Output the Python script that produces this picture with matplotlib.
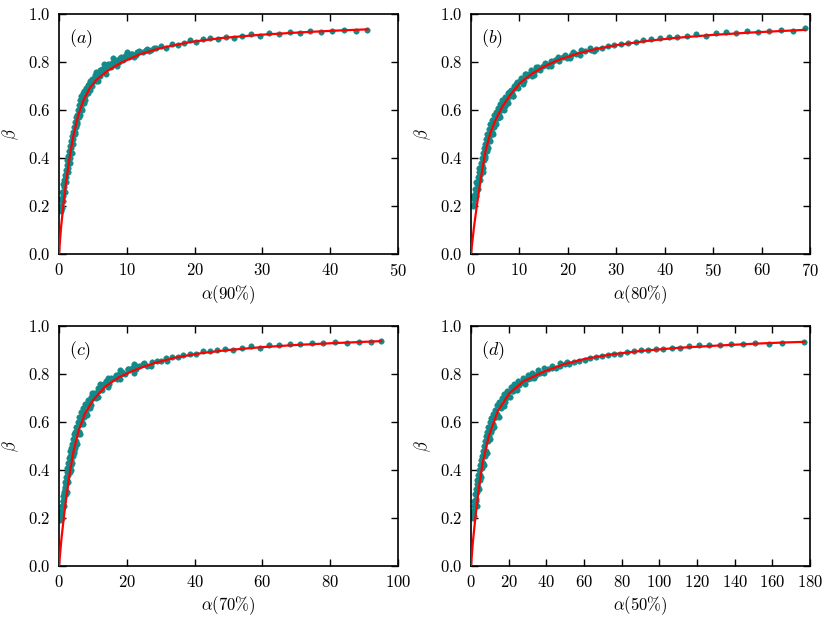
import matplotlib
matplotlib.use("Agg")
import matplotlib.pyplot as plt

plt.rcParams['font.family'] = ['cmr10']
plt.rcParams['mathtext.fontset'] = 'cm'
plt.rcParams['axes.formatter.use_mathtext'] = True
plt.rcParams['font.size'] = 12

# measured points (alpha, beta) per panel
pts_a = [(0.25,0.18),(0.3,0.2),(0.4,0.19),(0.45,0.22),(0.55,0.24),(0.6,0.22),(0.7,0.26),(0.8,0.28),
         (0.85,0.26),(0.95,0.3),(1.05,0.32),(1.1,0.3),(1.2,0.34),(1.3,0.36),(1.35,0.34),(1.45,0.38),
         (1.55,0.4),(1.6,0.38),(1.7,0.42),(1.8,0.44),(1.85,0.42),(1.95,0.46),(2.05,0.48),(2.1,0.46),
         (2.2,0.5),(2.3,0.51),(2.4,0.5),(2.5,0.53),(2.6,0.55),(2.7,0.54),(2.8,0.57),(2.9,0.58),
         (3.0,0.57),(3.1,0.6),(3.2,0.61),(3.35,0.6),(3.5,0.63),(3.6,0.64),(3.75,0.63),(3.9,0.66),
         (4.0,0.67),(4.2,0.68),(4.35,0.67),(4.5,0.7),(4.7,0.71),(4.85,0.7),(5.0,0.72),(5.2,0.73),
         (5.4,0.72),(5.6,0.74),(5.8,0.75),(6.0,0.74),(6.2,0.76),(6.5,0.77),(6.8,0.76),(7.0,0.78),
         (7.3,0.79),(7.6,0.78),(7.9,0.8),(8.2,0.79),(8.5,0.81),(8.8,0.8),(9.1,0.82),(9.5,0.81),
         (9.9,0.83),(10.3,0.82),(10.8,0.835),(11.3,0.83),(11.8,0.845),(12.4,0.84),(13.0,0.855),
         (13.6,0.85),(14.3,0.86),(15.0,0.865),(15.8,0.86),(16.6,0.875),(17.5,0.87),(18.4,0.88),
         (19.3,0.89),(20.2,0.885),(21.2,0.895),(22.3,0.9),(23.4,0.895),(24.6,0.905),(25.8,0.9),
         (27.0,0.91),(28.3,0.915),(29.6,0.91),(31.0,0.92),(32.5,0.915),(34.0,0.925),(35.5,0.92),
         (37.0,0.93),(38.6,0.925),(40.2,0.93),(42.0,0.935),(43.8,0.93),(45.5,0.935),
         (2.6,0.58),(3.4,0.65),(4.4,0.71),(5.5,0.76),(6.6,0.79),(8.0,0.815),(10.0,0.84),
         (0.35,0.23),(0.5,0.26),(0.65,0.29),(0.75,0.31),(0.9,0.33),(1.0,0.35),(1.15,0.37),
         (1.25,0.39),(1.4,0.41),(1.5,0.43),(1.65,0.45),(1.75,0.47),(1.9,0.49),(2.0,0.51),
         (2.15,0.53),(2.35,0.55),(2.45,0.57),(2.75,0.6),(2.95,0.62),(3.15,0.64),(3.3,0.66),
         (3.55,0.67),(3.7,0.68),(3.95,0.69),(4.3,0.705),(4.6,0.72),(4.9,0.73),(5.3,0.745),
         (5.7,0.755),(6.1,0.765),(6.4,0.77),(7.1,0.785),(7.5,0.79),(8.4,0.805),(9.0,0.815),
         (9.7,0.825),(10.6,0.835),(11.5,0.84),(12.8,0.85),(14.0,0.86),
         (3.05,0.58),(3.8,0.64),(4.6,0.685),(5.7,0.72),(6.9,0.75),(8.6,0.785),(11.0,0.82),
         (13.3,0.845)]

pts_b = [(0.4,0.2),(0.55,0.23),(0.7,0.21),(0.85,0.25),(1.0,0.24),(1.15,0.27),(1.3,0.29),(1.45,0.27),
         (1.6,0.31),(1.8,0.33),(1.95,0.31),(2.1,0.35),(2.3,0.37),(2.45,0.36),(2.6,0.39),(2.8,0.41),
         (2.95,0.4),(3.1,0.43),(3.3,0.45),(3.45,0.44),(3.6,0.47),(3.8,0.48),(4.0,0.47),(4.2,0.5),
         (4.4,0.51),(4.6,0.5),(4.8,0.53),(5.0,0.55),(5.2,0.54),(5.4,0.57),(5.7,0.58),(5.9,0.57),
         (6.2,0.6),(6.5,0.61),(6.8,0.6),(7.1,0.63),(7.4,0.64),(7.7,0.63),(8.0,0.66),(8.4,0.67),
         (8.7,0.66),(9.0,0.69),(9.4,0.7),(9.8,0.69),(10.2,0.72),(10.6,0.73),(11.0,0.72),(11.5,0.74),
         (12.0,0.75),(12.5,0.74),(13.0,0.76),(13.6,0.77),(14.2,0.765),(14.8,0.785),(15.4,0.79),
         (16.0,0.785),(16.7,0.8),(17.4,0.81),(18.2,0.805),(19.0,0.82),(19.8,0.815),(20.7,0.83),
         (21.6,0.835),(22.6,0.83),(23.6,0.845),(24.7,0.85),(25.8,0.855),(27.0,0.86),(28.3,0.865),
         (29.6,0.87),(31.0,0.875),(32.5,0.88),(34.0,0.885),(35.6,0.89),(37.2,0.895),(39.0,0.9),
         (40.8,0.905),(42.6,0.905),(44.5,0.91),(46.5,0.915),(48.5,0.91),(50.5,0.92),(52.6,0.925),
         (54.8,0.92),(57.0,0.93),(59.3,0.925),(61.6,0.93),(64.0,0.935),(66.4,0.93),(69.0,0.94),
         (2.6,0.42),(3.5,0.49),(4.5,0.54),(5.5,0.59),(6.6,0.635),(7.8,0.675),(9.2,0.71),
         (11.2,0.75),(13.4,0.78),
         (0.5,0.24),(0.8,0.27),(1.1,0.3),(1.35,0.32),(1.55,0.34),(1.75,0.36),(2.0,0.38),(2.2,0.4),
         (2.4,0.42),(2.7,0.44),(2.9,0.46),(3.2,0.48),(3.4,0.5),(3.7,0.52),(3.95,0.54),(4.3,0.56),
         (4.7,0.58),(5.1,0.59),(5.6,0.61),(6.0,0.625),(6.5,0.64),(7.0,0.655),(7.6,0.67),(8.2,0.685),
         (8.9,0.7),(9.6,0.715),(10.4,0.735),(11.4,0.75),(12.4,0.765),(13.8,0.78),(15.2,0.795),
         (16.5,0.805),(18.0,0.82),(19.5,0.83),(21.0,0.84),(22.8,0.85),(24.5,0.857),
         (2.4,0.34),(3.3,0.43),(4.3,0.5),(5.6,0.565),(7.0,0.615),(8.6,0.66),(10.8,0.71),
         (13.0,0.745),(16.5,0.785),(20.5,0.815),(25.5,0.845)]

pts_c = [(0.4,0.19),(0.6,0.22),(0.8,0.2),(1.0,0.25),(1.2,0.27),(1.4,0.25),(1.6,0.3),(1.8,0.32),
         (2.0,0.3),(2.2,0.34),(2.4,0.36),(2.6,0.35),(2.8,0.38),(3.0,0.4),(3.2,0.39),(3.4,0.42),
         (3.6,0.44),(3.8,0.43),(4.0,0.46),(4.3,0.48),(4.5,0.47),(4.8,0.5),(5.0,0.52),(5.3,0.51),
         (5.6,0.55),(5.9,0.56),(6.2,0.55),(6.5,0.59),(6.8,0.6),(7.1,0.59),(7.5,0.63),(7.9,0.64),
         (8.3,0.63),(8.7,0.67),(9.1,0.68),(9.5,0.67),(10.0,0.7),(10.5,0.71),(11.0,0.7),(11.6,0.73),
         (12.2,0.74),(12.8,0.735),(13.4,0.76),(14.0,0.765),(14.7,0.76),(15.4,0.78),(16.2,0.785),
         (17.0,0.78),(17.8,0.8),(18.7,0.805),(19.6,0.8),(20.5,0.82),(21.5,0.825),(22.6,0.82),
         (23.7,0.835),(24.9,0.84),(26.1,0.835),(27.4,0.85),(28.8,0.855),(30.2,0.855),(31.7,0.865),
         (33.3,0.87),(35.0,0.87),(36.7,0.88),(38.5,0.885),(40.4,0.885),(42.4,0.895),(44.5,0.895),
         (46.7,0.9),(49.0,0.905),(51.4,0.9),(53.9,0.91),(56.5,0.915),(59.2,0.91),(62.0,0.92),
         (65.0,0.92),(68.0,0.925),(71.2,0.925),(74.5,0.93),(78.0,0.93),(81.5,0.935),(85.0,0.93),
         (88.5,0.935),(92.0,0.935),(95.0,0.938),
         (3.9,0.48),(5.2,0.56),(6.6,0.62),(8.0,0.67),(9.8,0.72),(12.0,0.76),(14.5,0.785),
         (18.0,0.815),(22.0,0.84),
         (0.5,0.21),(0.7,0.23),(0.9,0.25),(1.1,0.27),(1.3,0.29),(1.5,0.31),(1.7,0.33),(1.9,0.35),
         (2.1,0.37),(2.3,0.39),(2.5,0.41),(2.7,0.43),(2.9,0.45),(3.1,0.46),(3.3,0.48),(3.5,0.49),
         (3.75,0.51),(4.1,0.53),(4.4,0.55),(4.7,0.56),(5.1,0.58),(5.5,0.6),(6.0,0.62),(6.6,0.64),
         (7.2,0.66),(7.8,0.675),(8.5,0.69),(9.3,0.705),(10.3,0.72),(11.4,0.74),(12.6,0.755),
         (13.9,0.77),(15.2,0.785),(16.8,0.795),(18.5,0.81),(20.5,0.82),(22.8,0.835),(25.0,0.845),
         (2.5,0.31),(3.5,0.4),(4.7,0.49),(6.0,0.56),(7.5,0.62),(9.2,0.66),(11.5,0.705),
         (14.5,0.745),(18.0,0.78),(22.0,0.805),(27.0,0.832),(32.0,0.853)]

pts_d = [(0.8,0.2),(1.2,0.23),(1.6,0.21),(2.0,0.26),(2.4,0.28),(2.8,0.27),(3.2,0.31),(3.6,0.33),
         (4.0,0.32),(4.5,0.36),(5.0,0.38),(5.4,0.37),(5.9,0.41),(6.4,0.43),(6.9,0.42),(7.4,0.46),
         (8.0,0.48),(8.5,0.47),(9.1,0.52),(9.7,0.54),(10.3,0.53),(11.0,0.57),(11.7,0.59),(12.4,0.58),
         (13.2,0.62),(14.0,0.63),(14.8,0.62),(15.7,0.66),(16.6,0.67),(17.5,0.665),(18.5,0.7),
         (19.5,0.71),(20.6,0.705),(21.8,0.73),(23.0,0.74),(24.3,0.735),(25.6,0.755),(27.0,0.765),
         (28.5,0.76),(30.0,0.78),(31.6,0.785),(33.3,0.785),(35.0,0.8),(36.8,0.805),(38.7,0.805),
         (40.7,0.82),(42.8,0.825),(45.0,0.825),(47.3,0.835),(49.7,0.84),(52.2,0.84),(54.8,0.85),
         (57.5,0.855),(60.3,0.86),(63.2,0.865),(66.2,0.87),(69.3,0.875),(72.5,0.88),(75.8,0.885),
         (79.2,0.885),(82.7,0.89),(86.3,0.895),(90.0,0.9),(94.0,0.9),(98.0,0.905),(102.0,0.905),
         (106.5,0.91),(111.0,0.91),(116.0,0.915),(121.0,0.92),(126.5,0.92),(132.0,0.92),
         (138.0,0.925),(144.5,0.925),(151.0,0.93),(158.0,0.925),(165.0,0.93),(177.0,0.935),
         (7.0,0.47),(9.5,0.56),(12.5,0.62),(15.5,0.67),(19.0,0.715),(23.5,0.75),(29.0,0.78),
         (1.0,0.22),(1.4,0.25),(1.8,0.27),(2.2,0.3),(2.6,0.32),(3.0,0.34),(3.4,0.36),(3.9,0.38),
         (4.3,0.4),(4.8,0.42),(5.2,0.44),(5.7,0.46),(6.2,0.48),(6.7,0.5),(7.3,0.52),(7.9,0.54),
         (8.5,0.56),(9.2,0.58),(10.0,0.6),(10.8,0.615),(11.7,0.635),(12.7,0.65),(13.8,0.67),
         (15.0,0.685),(16.3,0.7),(17.7,0.715),(19.3,0.73),(21.0,0.745),(23.0,0.76),(25.2,0.77),
         (27.5,0.785),(30.0,0.795),(32.5,0.805),(35.5,0.815),(39.0,0.825),(43.0,0.835),
         (47.0,0.845),(51.0,0.85),
         (3.0,0.25),(5.0,0.36),(7.5,0.47),(10.5,0.56),(14.0,0.635),(18.0,0.685),(22.5,0.73),
         (28.0,0.765),(34.0,0.79)]

# fitted curves
fit_a_x = [0, 0.3, 0.63, 1.0, 1.5, 2.1, 2.8, 3.6, 4.5, 5.5, 7.0, 9.0, 12.0, 15.0, 19.3, 24, 30, 36, 41, 45.5]
fit_a_y = [0, 0.11, 0.2, 0.29, 0.39, 0.49, 0.575, 0.64, 0.69, 0.725, 0.76, 0.795, 0.833, 0.858, 0.883,
           0.9, 0.914, 0.924, 0.931, 0.936]
fit_b_x = [0, 0.6, 1.2, 2.0, 3.0, 4.0, 5.1, 6.5, 8.0, 10, 12.5, 15, 18, 22, 26, 30, 36, 42, 50, 58, 65, 69]
fit_b_y = [0, 0.11, 0.2, 0.31, 0.43, 0.505, 0.56, 0.615, 0.66, 0.71, 0.75, 0.78, 0.808, 0.835, 0.855,
           0.87, 0.887, 0.9, 0.913, 0.923, 0.93, 0.934]
fit_c_x = [0, 0.7, 1.4, 2.2, 3.2, 4.3, 5.8, 7.7, 10, 13.6, 17.5, 22.4, 28, 34.2, 42, 50, 60, 70, 80, 90, 95]
fit_c_y = [0, 0.11, 0.2, 0.29, 0.39, 0.48, 0.565, 0.636, 0.69, 0.747, 0.785, 0.817, 0.845, 0.868,
           0.887, 0.9, 0.912, 0.921, 0.928, 0.934, 0.937]
fit_d_x = [0, 1.0, 2.3, 4.1, 6.2, 9.4, 14.2, 20.4, 28, 39.3, 50, 60.5, 75, 90, 110, 130, 150, 165, 177]
fit_d_y = [0, 0.1, 0.2, 0.32, 0.43, 0.54, 0.645, 0.72, 0.77, 0.812, 0.842, 0.863, 0.882, 0.896,
           0.909, 0.918, 0.926, 0.931, 0.934]

panels = [
    ('a', '90', pts_a, fit_a_x, fit_a_y, 50, 10),
    ('b', '80', pts_b, fit_b_x, fit_b_y, 70, 10),
    ('c', '70', pts_c, fit_c_x, fit_c_y, 100, 20),
    ('d', '50', pts_d, fit_d_x, fit_d_y, 180, 20),
]

fig = plt.figure(figsize=(8.3, 6.22), dpi=100)
lefts = [59 / 830, 471 / 830]
bottoms = [(622 - 254) / 622, (622 - 566) / 622]
w = 339 / 830
h = 240 / 622

for i, (lab, pct, pts, fx, fy, xmax, xstep) in enumerate(panels):
    ax = fig.add_axes([lefts[i % 2], bottoms[i // 2], w, h])
    xs = [p[0] for p in pts]
    ys = [p[1] for p in pts]
    ax.plot(xs, ys, 'o', color='#138a8a', markersize=4.0, markeredgewidth=0.3,
            markeredgecolor='#138a8a', zorder=2)
    ax.plot(fx, fy, '-', color='red', lw=1.6, zorder=3)
    ax.set_xlim(0, xmax)
    ax.set_ylim(0, 1.0)
    ax.set_xticks(range(0, xmax + 1, xstep))
    ax.set_yticks([0.0, 0.2, 0.4, 0.6, 0.8, 1.0])
    ax.tick_params(direction='in', top=True, right=True, length=5, width=1, labelsize=12, pad=6)
    for s in ax.spines.values():
        s.set_linewidth(1.2)
    ax.set_xlabel(r'$\alpha(%s\%%)$' % pct, fontsize=12, labelpad=3)
    ax.set_ylabel(r'$\beta$', fontsize=12, labelpad=5)
    ax.text(0.03, 0.945, r'$(%s)$' % lab, transform=ax.transAxes, fontsize=13,
            ha='left', va='top')

fig.savefig('out.png', dpi=100)
